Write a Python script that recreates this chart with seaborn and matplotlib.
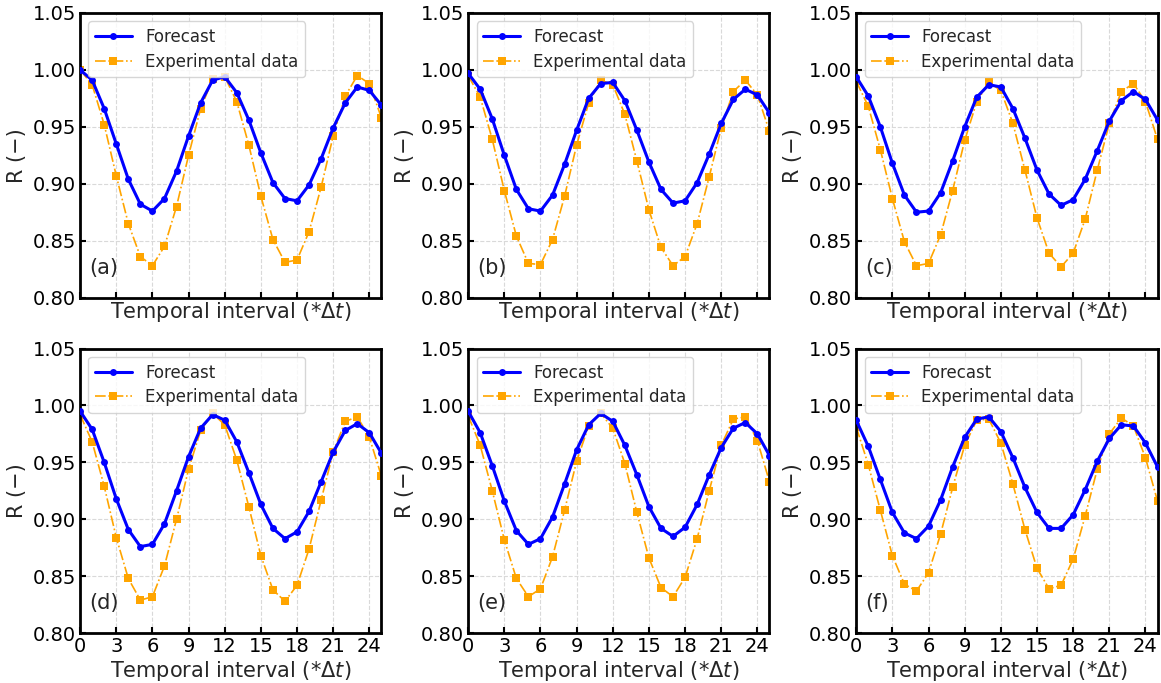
import numpy as np
import pandas as pd
import matplotlib
matplotlib.use("Agg")
import matplotlib.pyplot as plt
import seaborn as sns

# Temporal interval index (in units of Δt)
t = list(range(26))

forecast_a = [1.000, 0.991, 0.966, 0.935, 0.904, 0.882, 0.876, 0.887, 0.911, 0.942, 0.971, 0.991, 0.994,
              0.980, 0.956, 0.927, 0.901, 0.887, 0.885, 0.899, 0.922, 0.949, 0.971, 0.985, 0.982, 0.969]
experiment_a = [1.000, 0.987, 0.952, 0.907, 0.865, 0.836, 0.828, 0.845, 0.880, 0.925, 0.966, 0.992, 0.994,
                0.972, 0.934, 0.889, 0.851, 0.831, 0.833, 0.858, 0.897, 0.942, 0.977, 0.995, 0.988, 0.958]

forecast_b = [0.997, 0.983, 0.957, 0.925, 0.895, 0.878, 0.876, 0.890, 0.917, 0.947, 0.975, 0.988, 0.989,
              0.973, 0.947, 0.919, 0.895, 0.883, 0.885, 0.901, 0.926, 0.953, 0.974, 0.983, 0.978, 0.962]
experiment_b = [0.995, 0.976, 0.939, 0.894, 0.854, 0.830, 0.829, 0.851, 0.889, 0.934, 0.971, 0.991, 0.987,
                0.961, 0.920, 0.877, 0.844, 0.828, 0.836, 0.865, 0.906, 0.949, 0.981, 0.991, 0.978, 0.946]

forecast_c = [0.994, 0.977, 0.950, 0.918, 0.890, 0.875, 0.876, 0.892, 0.920, 0.950, 0.976, 0.987, 0.985,
              0.966, 0.940, 0.912, 0.891, 0.881, 0.886, 0.904, 0.929, 0.955, 0.973, 0.981, 0.974, 0.956]
experiment_c = [0.990, 0.968, 0.930, 0.887, 0.849, 0.828, 0.830, 0.855, 0.894, 0.938, 0.972, 0.989, 0.982,
                0.953, 0.912, 0.870, 0.839, 0.827, 0.839, 0.869, 0.912, 0.953, 0.981, 0.988, 0.972, 0.939]

forecast_d = [0.995, 0.979, 0.950, 0.918, 0.891, 0.876, 0.878, 0.896, 0.925, 0.955, 0.980, 0.992, 0.987,
              0.968, 0.941, 0.913, 0.892, 0.883, 0.889, 0.907, 0.933, 0.959, 0.978, 0.984, 0.976, 0.958]
experiment_d = [0.992, 0.968, 0.929, 0.884, 0.848, 0.829, 0.832, 0.859, 0.900, 0.944, 0.978, 0.993, 0.983,
                0.952, 0.911, 0.868, 0.838, 0.828, 0.842, 0.874, 0.917, 0.959, 0.986, 0.990, 0.972, 0.938]

forecast_e = [0.995, 0.976, 0.947, 0.916, 0.890, 0.878, 0.883, 0.902, 0.931, 0.961, 0.983, 0.993, 0.986,
              0.965, 0.939, 0.911, 0.892, 0.885, 0.893, 0.913, 0.939, 0.963, 0.980, 0.985, 0.975, 0.956]
experiment_e = [0.991, 0.965, 0.925, 0.882, 0.848, 0.832, 0.839, 0.867, 0.908, 0.951, 0.982, 0.993, 0.980,
                0.949, 0.906, 0.866, 0.840, 0.832, 0.849, 0.883, 0.925, 0.965, 0.988, 0.990, 0.969, 0.933]

forecast_f = [0.987, 0.964, 0.935, 0.906, 0.888, 0.883, 0.894, 0.917, 0.946, 0.972, 0.988, 0.990, 0.977,
              0.954, 0.928, 0.906, 0.892, 0.892, 0.904, 0.926, 0.951, 0.971, 0.983, 0.982, 0.967, 0.946]
experiment_f = [0.981, 0.948, 0.908, 0.868, 0.843, 0.837, 0.853, 0.887, 0.928, 0.965, 0.987, 0.988, 0.967,
                0.931, 0.891, 0.857, 0.839, 0.842, 0.865, 0.903, 0.944, 0.975, 0.989, 0.982, 0.954, 0.916]

panel_labels = ["(a)", "(b)", "(c)", "(d)", "(e)", "(f)"]
forecasts = [forecast_a, forecast_b, forecast_c, forecast_d, forecast_e, forecast_f]
experiments = [experiment_a, experiment_b, experiment_c, experiment_d, experiment_e, experiment_f]

y_ticks = [0.80, 0.85, 0.90, 0.95, 1.00, 1.05]
x_ticks = [0, 3, 6, 9, 12, 15, 18, 21, 24]

sns.set_style("whitegrid")
plt.rcParams["font.family"] = ["DejaVu Sans"]
plt.rcParams["mathtext.fontset"] = "dejavusans"

fig, axes = plt.subplots(2, 3, figsize=(11.61, 6.83), dpi=100)
fig.subplots_adjust(left=0.069, right=0.997, top=0.981, bottom=0.073,
                    wspace=0.288, hspace=0.179)

for i, ax in enumerate(axes.flat):
    df = pd.DataFrame({"t": t, "Forecast": forecasts[i], "Experimental data": experiments[i]})
    sns.lineplot(data=df, x="t", y="Forecast", ax=ax, color="#0000ff", linewidth=2.2,
                 marker="o", markersize=5, markeredgewidth=0, label="Forecast", zorder=3)
    sns.lineplot(data=df, x="t", y="Experimental data", ax=ax, color="#ffa500", linewidth=1.2,
                 linestyle="-.", marker="s", markersize=5.5, markeredgewidth=0,
                 label="Experimental data", zorder=2)

    ax.set_xlim(0, 25)
    ax.set_ylim(0.80, 1.05)
    ax.set_xticks(x_ticks)
    ax.set_yticks(y_ticks)
    ax.set_yticklabels([f"{v:.2f}" for v in y_ticks])
    ax.grid(True, color="#d9d9d9", linestyle="--", linewidth=0.8)
    ax.set_facecolor("white")
    for sp in ax.spines.values():
        sp.set_visible(True)
        sp.set_color("black")
        sp.set_linewidth(2.0)
    ax.tick_params(axis="both", direction="in", length=4, width=1.5, labelsize=14,
                   colors="black", bottom=True, left=True, top=False, right=False, pad=3)
    if i < 3:
        ax.tick_params(axis="x", labelbottom=False)
    ax.set_xlabel(r"Temporal interval (*$\Delta t$)", fontsize=15, labelpad=2)
    ax.set_ylabel("R (\u2212)", fontsize=15, labelpad=4)
    ax.text(0.03, 0.07, panel_labels[i], transform=ax.transAxes, fontsize=15,
            ha="left", va="bottom")
    leg = ax.legend(loc="upper left", fontsize=12, frameon=True, fancybox=True,
                    framealpha=0.8, edgecolor="#cccccc", borderpad=0.4,
                    handlelength=2.2, labelspacing=0.4, borderaxespad=0.5)

fig.savefig("out.png", dpi=100)
